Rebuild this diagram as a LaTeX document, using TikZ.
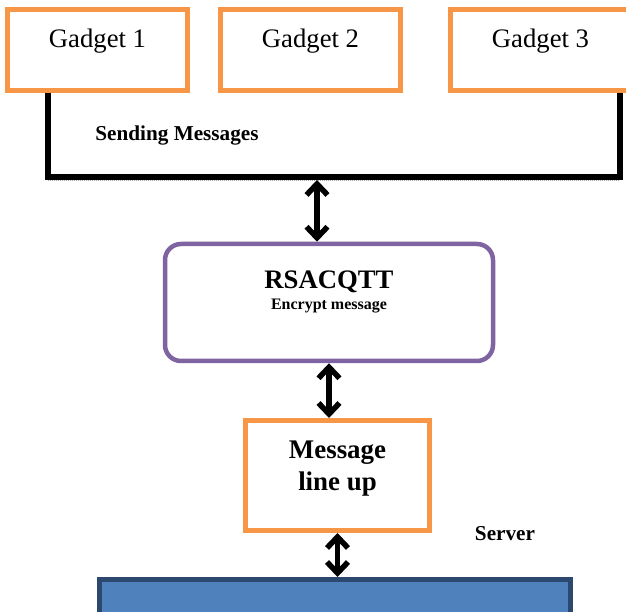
\documentclass[tikz,border=0pt]{standalone}
\usepackage{fontspec}
\setmainfont{Liberation Serif}
\usetikzlibrary{arrows.meta,calc,positioning}
\definecolor{gadgetorange}{RGB}{247,150,70}
\definecolor{cipherviolet}{RGB}{128,100,162}
\definecolor{serverblue}{RGB}{79,129,189}
\definecolor{serverrim}{RGB}{44,72,110}
\tikzset{
  gadget/.style={draw=gadgetorange,line width=5pt,minimum width=180pt,minimum height=81pt,
                 inner sep=0pt,text height=18pt,text depth=22pt,font=\fontsize{26.7}{30}\selectfont},
  cipher/.style={draw=cipherviolet,line width=4.5pt,rounded corners=16pt,minimum width=328pt,
                 minimum height=117pt,align=center,inner sep=0pt},
  queue/.style={draw=gadgetorange,line width=5pt,minimum width=184pt,minimum height=110pt,
                align=center,inner sep=0pt,font=\fontsize{26.9}{32}\selectfont\bfseries},
  server/.style={draw=serverrim,fill=serverblue,line width=5pt,minimum width=471pt,minimum height=60pt},
  bus/.style={black,line width=6pt,line join=miter,
              preaction={draw=black!35,dash pattern=on 1pt off 1pt,transform canvas={yshift=-3.5pt}}},
  duplex/.style={{Straight Barb[length=11pt,width=21pt]}-{Straight Barb[length=11pt,width=21pt]},
                 line width=5.5pt},
  lab/.style={font=\fontsize{21.2}{24}\selectfont\bfseries},
}

\begin{document}
\begin{tikzpicture}[x=1pt,y=1pt]
  \path[use as bounding box] (0,0) rectangle (626,612);

  \node[gadget] (g1) at (97.5,562) {Gadget 1\hspace{11pt}};
  \node[gadget] (g2) at (310.5,562) {Gadget 2};
  \node[gadget] (g3) at (540.5,562) {Gadget 3};

  % collecting line under the gadgets
  \coordinate (busL) at (47.5,435);
  \coordinate (busR) at (619.5,435);
  \draw[bus] (busL |- g1.south) -- (busL) -- (busR) -- (busR |- g3.south);
  \node[lab] (send) at (177,477) {Sending Messages};

  \node[cipher] (rsa) at (329,309.5)
    {\fontsize{26.7}{22}\selectfont\bfseries RSACQTT\\[5pt]
     \fontsize{16}{22}\selectfont\bfseries Encrypt message\rule[-24pt]{0pt}{24pt}};
  \node[queue] (msg) at (337.5,136.5) {Message\\line up\rule[-19pt]{0pt}{19pt}};
  \node[lab] (srv) at (505,78) {Server};
  \node[server] (srvbar) at (335,2.5) {};

  \coordinate (tap) at (317,432);
  \draw[duplex] (tap) -- (tap |- rsa.north);
  \draw[duplex] (rsa.south) -- (rsa.south |- msg.north);
  \draw[duplex] (msg.south) -- (msg.south |- srvbar.north);
\end{tikzpicture}
\end{document}
